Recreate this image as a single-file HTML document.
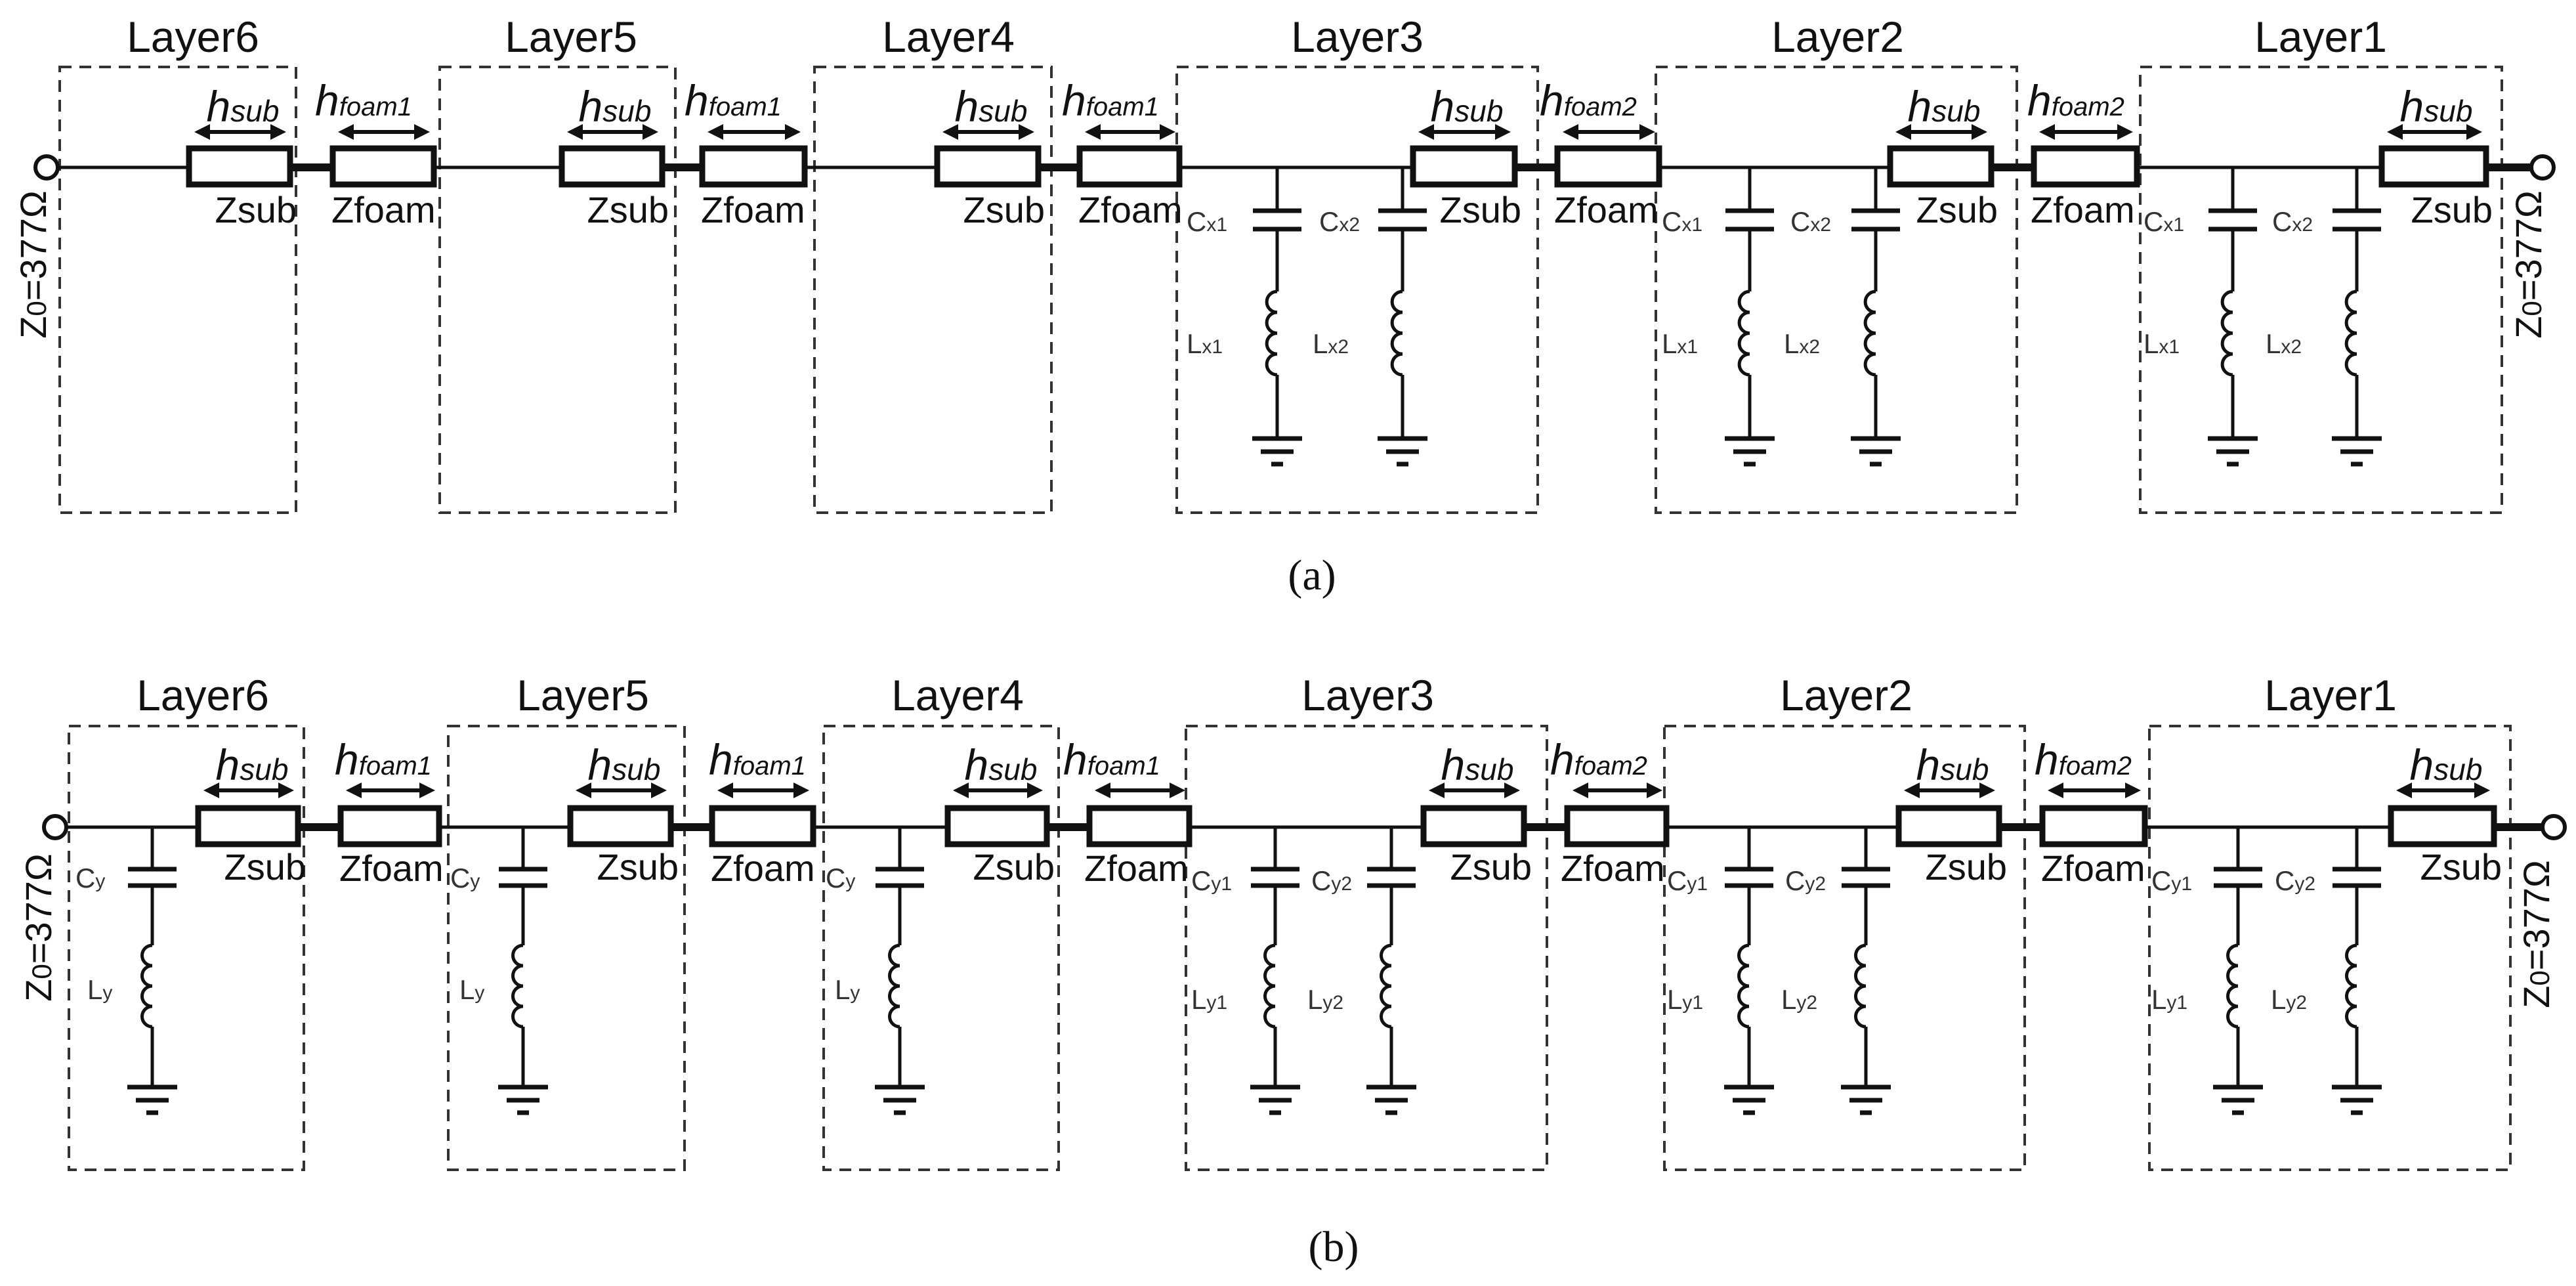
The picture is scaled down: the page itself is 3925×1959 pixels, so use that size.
<!DOCTYPE html>
<html><head><meta charset="utf-8">
<style>
html,body{margin:0;padding:0;background:#fff;}
svg{display:block;}
text{font-family:"Liberation Sans",Arial,sans-serif;fill:#111;}
.lay{font-size:66px;text-anchor:middle;}
.z{font-size:56px;}
.h{font-size:66px;font-style:italic;}
.sm{font-size:42px;fill:#333;}
.cap{font-family:"Liberation Serif",serif;font-size:66px;text-anchor:middle;}
</style></head><body>
<svg id="s" width="3925" height="1959" viewBox="0 0 3925 1959" xmlns="http://www.w3.org/2000/svg">
<g id="g"></g>
<text class="lay" x="294" y="79">Layer6</text>
<text class="lay" x="870" y="79">Layer5</text>
<text class="lay" x="1445" y="79">Layer4</text>
<text class="lay" x="2068" y="79">Layer3</text>
<text class="lay" x="2800" y="79">Layer2</text>
<text class="lay" x="3536" y="79">Layer1</text>
<text class="lay" x="309" y="1082">Layer6</text>
<text class="lay" x="888" y="1082">Layer5</text>
<text class="lay" x="1459" y="1082">Layer4</text>
<text class="lay" x="2084" y="1082">Layer3</text>
<text class="lay" x="2813" y="1082">Layer2</text>
<text class="lay" x="3551" y="1082">Layer1</text>

<text class="h" x="370" y="185" text-anchor="middle">h<tspan font-size="46">sub</tspan></text>
<text class="h" x="937" y="185" text-anchor="middle">h<tspan font-size="46">sub</tspan></text>
<text class="h" x="1510" y="185" text-anchor="middle">h<tspan font-size="46">sub</tspan></text>
<text class="h" x="2235" y="185" text-anchor="middle">h<tspan font-size="46">sub</tspan></text>
<text class="h" x="2962" y="185" text-anchor="middle">h<tspan font-size="46">sub</tspan></text>
<text class="h" x="3712" y="185" text-anchor="middle">h<tspan font-size="46">sub</tspan></text>
<text class="h" x="480" y="176">h<tspan font-size="40">foam1</tspan></text>
<text class="h" x="1043" y="176">h<tspan font-size="40">foam1</tspan></text>
<text class="h" x="1618" y="176">h<tspan font-size="40">foam1</tspan></text>
<text class="h" x="2346" y="176">h<tspan font-size="40">foam2</tspan></text>
<text class="h" x="3089" y="176">h<tspan font-size="40">foam2</tspan></text>
<text class="z" x="452" y="339" text-anchor="end">Zsub</text>
<text class="z" x="505" y="339">Zfoam</text>
<text class="z" x="1019" y="339" text-anchor="end">Zsub</text>
<text class="z" x="1068" y="339">Zfoam</text>
<text class="z" x="1592" y="339" text-anchor="end">Zsub</text>
<text class="z" x="1643" y="339">Zfoam</text>
<text class="z" x="2318" y="339" text-anchor="end">Zsub</text>
<text class="z" x="2368" y="339">Zfoam</text>
<text class="z" x="3044" y="339" text-anchor="end">Zsub</text>
<text class="z" x="3094" y="339">Zfoam</text>
<text class="z" x="3798" y="339" text-anchor="end">Zsub</text>
<text class="sm" x="1808" y="352">C<tspan font-size="30">x1</tspan></text>
<text class="sm" x="2010" y="352">C<tspan font-size="30">x2</tspan></text>
<text class="sm" x="1808" y="538">L<tspan font-size="30">x1</tspan></text>
<text class="sm" x="2000" y="538">L<tspan font-size="30">x2</tspan></text>
<text class="sm" x="2532" y="352">C<tspan font-size="30">x1</tspan></text>
<text class="sm" x="2728" y="352">C<tspan font-size="30">x2</tspan></text>
<text class="sm" x="2532" y="538">L<tspan font-size="30">x1</tspan></text>
<text class="sm" x="2718" y="538">L<tspan font-size="30">x2</tspan></text>
<text class="sm" x="3266" y="352">C<tspan font-size="30">x1</tspan></text>
<text class="sm" x="3462" y="352">C<tspan font-size="30">x2</tspan></text>
<text class="sm" x="3266" y="538">L<tspan font-size="30">x1</tspan></text>
<text class="sm" x="3452" y="538">L<tspan font-size="30">x2</tspan></text>
<text class="z" font-size="64" text-anchor="middle" transform="translate(70,403) rotate(-90)">Z<tspan font-size="42">0</tspan>=377Ω</text>
<text class="z" font-size="64" text-anchor="middle" transform="translate(3872,403) rotate(-90)">Z<tspan font-size="42">0</tspan>=377Ω</text>

<text class="h" x="384" y="1188" text-anchor="middle">h<tspan font-size="46">sub</tspan></text>
<text class="h" x="951" y="1188" text-anchor="middle">h<tspan font-size="46">sub</tspan></text>
<text class="h" x="1525" y="1188" text-anchor="middle">h<tspan font-size="46">sub</tspan></text>
<text class="h" x="2251" y="1188" text-anchor="middle">h<tspan font-size="46">sub</tspan></text>
<text class="h" x="2975" y="1188" text-anchor="middle">h<tspan font-size="46">sub</tspan></text>
<text class="h" x="3727" y="1188" text-anchor="middle">h<tspan font-size="46">sub</tspan></text>
<text class="h" x="510" y="1180">h<tspan font-size="40">foam1</tspan></text>
<text class="h" x="1080" y="1180">h<tspan font-size="40">foam1</tspan></text>
<text class="h" x="1620" y="1180">h<tspan font-size="40">foam1</tspan></text>
<text class="h" x="2362" y="1180">h<tspan font-size="40">foam2</tspan></text>
<text class="h" x="3100" y="1180">h<tspan font-size="40">foam2</tspan></text>
<text class="z" x="466" y="1340" text-anchor="end">Zsub</text>
<text class="z" x="517" y="1342">Zfoam</text>
<text class="z" x="1034" y="1340" text-anchor="end">Zsub</text>
<text class="z" x="1083" y="1342">Zfoam</text>
<text class="z" x="1607" y="1340" text-anchor="end">Zsub</text>
<text class="z" x="1652" y="1342">Zfoam</text>
<text class="z" x="2334" y="1340" text-anchor="end">Zsub</text>
<text class="z" x="2378" y="1342">Zfoam</text>
<text class="z" x="3058" y="1340" text-anchor="end">Zsub</text>
<text class="z" x="3110" y="1342">Zfoam</text>
<text class="z" x="3812" y="1340" text-anchor="end">Zsub</text>
<text class="sm" x="115" y="1352">C<tspan font-size="30">y</tspan></text>
<text class="sm" x="133" y="1522">L<tspan font-size="30">y</tspan></text>
<text class="sm" x="686" y="1352">C<tspan font-size="30">y</tspan></text>
<text class="sm" x="700" y="1522">L<tspan font-size="30">y</tspan></text>
<text class="sm" x="1258" y="1352">C<tspan font-size="30">y</tspan></text>
<text class="sm" x="1272" y="1522">L<tspan font-size="30">y</tspan></text>
<text class="sm" x="1815" y="1356">C<tspan font-size="30">y1</tspan></text>
<text class="sm" x="1998" y="1356">C<tspan font-size="30">y2</tspan></text>
<text class="sm" x="1815" y="1537">L<tspan font-size="30">y1</tspan></text>
<text class="sm" x="1992" y="1537">L<tspan font-size="30">y2</tspan></text>
<text class="sm" x="2540" y="1356">C<tspan font-size="30">y1</tspan></text>
<text class="sm" x="2720" y="1356">C<tspan font-size="30">y2</tspan></text>
<text class="sm" x="2540" y="1537">L<tspan font-size="30">y1</tspan></text>
<text class="sm" x="2714" y="1537">L<tspan font-size="30">y2</tspan></text>
<text class="sm" x="3278" y="1356">C<tspan font-size="30">y1</tspan></text>
<text class="sm" x="3466" y="1356">C<tspan font-size="30">y2</tspan></text>
<text class="sm" x="3278" y="1537">L<tspan font-size="30">y1</tspan></text>
<text class="sm" x="3460" y="1537">L<tspan font-size="30">y2</tspan></text>
<text class="z" font-size="64" text-anchor="middle" transform="translate(78,1413) rotate(-90)">Z<tspan font-size="42">0</tspan>=377Ω</text>
<text class="z" font-size="64" text-anchor="middle" transform="translate(3884,1423) rotate(-90)">Z<tspan font-size="42">0</tspan>=377Ω</text>

<text class="cap" x="1999" y="898">(a)</text>
<text class="cap" x="2032" y="1921">(b)</text>
</svg>
<script>
(function(){
var g=document.getElementById('g');var out='';
function L(x1,y1,x2,y2,w,c){out+='<line x1="'+x1+'" y1="'+y1+'" x2="'+x2+'" y2="'+y2+'" stroke="'+(c||'#111')+'" stroke-width="'+w+'"/>';}
function box(x1,x2,y1,y2){out+='<rect x="'+x1+'" y="'+y1+'" width="'+(x2-x1)+'" height="'+(y2-y1)+'" fill="none" stroke="#333" stroke-width="4" stroke-dasharray="18 12"/>';}
function res(x1,x2,y1,y2){out+='<rect x="'+x1+'" y="'+y1+'" width="'+(x2-x1)+'" height="'+(y2-y1)+'" fill="#fff" stroke="#111" stroke-width="9"/>';}
function arr(x1,x2,y){var a=x1+4,b=x2-4;L(a+18,y,b-18,y,6);
 out+='<polygon points="'+a+','+y+' '+(a+24)+','+(y-12)+' '+(a+24)+','+(y+12)+'" fill="#111"/>';
 out+='<polygon points="'+b+','+y+' '+(b-24)+','+(y-12)+' '+(b-24)+','+(y+12)+'" fill="#111"/>';}
function circ(x,y){out+='<circle cx="'+x+'" cy="'+y+'" r="17" fill="#fff" stroke="#111" stroke-width="6"/>';}
function branch(x,my,p1,p2,i1,i2,gy){
 L(x,my,x,p1,5);L(x-37,p1,x+37,p1,7);L(x-37,p2,x+37,p2,7);L(x,p2,x,i1,5);
 var n=4,h=(i2-i1)/n,r=h/2,d='M'+x+','+i1;
 for(var k=0;k<n;k++){d+=' A'+r+','+r+' 0 0 0 '+x+','+(i1+(k+1)*h);}
 out+='<path d="'+d+'" fill="none" stroke="#111" stroke-width="5"/>';
 L(x,i2,x,gy,5);L(x-38,gy,x+38,gy,7);L(x-25,gy+20,x+25,gy+20,7);L(x-9,gy+39,x+9,gy+39,7);}
function panel(P){
 var my=P.my;
 P.L.forEach(function(l){box(l.b[0],l.b[1],P.bt,P.bb);});
 var prev=P.c0;
 P.L.forEach(function(l){
   L(prev,my,l.s[0],my,5);
   if(l.f){L(l.s[1],my,l.f[0],my,12);prev=l.f[1];}
   else{L(l.s[1],my,P.c1,my,12);}
 });
 P.L.forEach(function(l){
   (l.br||[]).forEach(function(x){branch(x,my,my+P.p1,my+P.p2,my+P.i1,my+P.i2,my+P.gy);});
   res(l.s[0],l.s[1],my-29,my+26);arr(l.s[0]+4,l.s[1]-2,P.ay);
   if(l.f){res(l.f[0],l.f[1],my-29,my+26);arr(l.f[0]+4,l.f[1]-2,P.ay);}
 });
 circ(P.c0,my);circ(P.c1,my);
}
panel({my:255,bt:102,bb:781,ay:201,c0:71,c1:3874,p1:66,p2:94,i1:189,i2:316,gy:413,L:[
 {b:[91,451],s:[288,442],f:[507,661]},
 {b:[670,1029],s:[856,1009],f:[1070,1226]},
 {b:[1241,1602],s:[1428,1582],f:[1645,1797]},
 {b:[1793,2343],s:[2153,2308],f:[2373,2528],br:[1946,2137]},
 {b:[2523,3073],s:[2880,3034],f:[3099,3256],br:[2666,2858]},
 {b:[3261,3812],s:[3629,3788],br:[3402,3591]}]});
panel({my:1260,bt:1106,bb:1782,ay:1204,c0:84,c1:3891,p1:64,p2:89,i1:180,i2:304,gy:396,L:[
 {b:[105,463],s:[302,454],f:[519,669],br:[232]},
 {b:[683,1043],s:[869,1022],f:[1085,1239],br:[797]},
 {b:[1255,1613],s:[1444,1595],f:[1660,1812],br:[1371]},
 {b:[1807,2357],s:[2169,2322],f:[2388,2539],br:[1943,2120]},
 {b:[2536,3085],s:[2893,3046],f:[3112,3268],br:[2665,2843]},
 {b:[3275,3825],s:[3643,3800],br:[3410,3591]}]});
g.innerHTML=out;
})();
</script>
</body></html>
